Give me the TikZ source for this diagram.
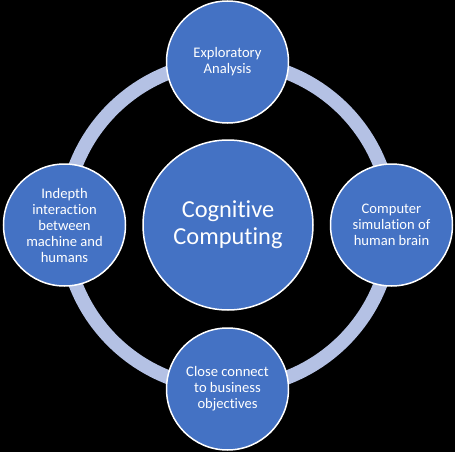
\documentclass[tikz,border=0pt]{standalone}
\usepackage{fontspec}
\setmainfont{Carlito}[Ligatures=NoCommon]
\usepackage{tikz}
\usetikzlibrary{positioning}
\definecolor{bubbleblue}{RGB}{68,114,196}
\definecolor{ringblue}{RGB}{180,193,228}
\tikzset{
    bubble/.style={circle, draw=white, line width=1.5pt, fill=bubbleblue, text=white, align=center, inner sep=0pt},
    small/.style={bubble, minimum size=122pt, font=\fontsize{14.6}{16}\selectfont},
    big/.style={bubble, minimum size=170pt, font=\fontsize{24.4}{27}\selectfont}
}

\begin{document}
\begin{tikzpicture}[x=1pt,y=1pt]
        \fill[black] (0,0) rectangle (455,-452);
        \useasboundingbox (0,0) rectangle (455,-452);
        \coordinate (C) at (228,-225);
        \coordinate (T) at (227.5,-62);
        \coordinate (L) at (64.5,-225);
        \coordinate (R) at (391.5,-225);
        \coordinate (B) at (227.5,-389);
        \draw[ringblue, line width=14pt] (C) circle (163.5);
        \node[big] (core) at (C) {Cognitive\\Computing};
        \node[small] (explore) at (T) {Exploratory\\Analysis};
        \node[small] (interact) at (L) {Indepth\\interaction\\between\\machine and\\humans};
        \node[small] (brain) at (R) {Computer\\simulation of\\human brain};
        \node[small] (business) at (B) {Close connect\\to business\\objectives};
    \end{tikzpicture}
\end{document}
